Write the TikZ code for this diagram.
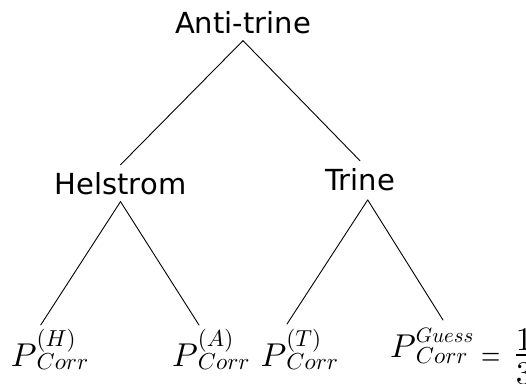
\documentclass[tikz,border=0pt]{standalone}
\usepackage{amsmath}
\usepackage{fontspec}
\newfontfamily\labelfont{DejaVu Sans}
% math labels: built at 10pt and enlarged
\newcommand{\bigmath}[1]{\scalebox{3.3}{\normalsize$#1$}}
\newcommand{\idx}[2][0.7]{\scalebox{#1}{$#2$}}
\newlength\supwd
\newlength\subwd
% P with an index above and "Corr" below: [index scale]{index}{raise}{drop}
\newcommand{\pcorr}[4][0.7]{%
  \settowidth\supwd{\idx[#1]{#2}}\settowidth\subwd{\idx{Corr}}%
  P\rlap{\raisebox{#3}{\idx[#1]{#2}}}\rlap{\raisebox{-#4}{\idx{Corr}}}%
  \hskip\ifdim\supwd>\subwd\supwd\else\subwd\fi}
% one third, set as a tight stacked fraction
\newcommand{\onethird}{%
  \rlap{\hbox to 5pt{\hss\raisebox{2.1pt}{$1$}\hss}}%
  \rlap{\rule[0.4pt]{5pt}{0.4pt}}%
  \hbox to 5pt{\hss\raisebox{-8.45pt}{$3$}\hss}}
\tikzset{
  word/.style={font=\labelfont\fontsize{29}{35}\selectfont, inner xsep=0pt, inner ysep=7pt, anchor=base},
  prob/.style={inner sep=0pt, anchor=base west},
  branch/.style={line width=0.9pt, line cap=round}
}
\begin{document}
\begin{tikzpicture}[x=1pt,y=-1pt]
\useasboundingbox (0,0) rectangle (526,383);
% tree levels
\node[word] (anti) at (243,33) {Anti-trine};
\node[word] (hel) at (120.5,194) {Helstrom};
\node[word] (tri) at (360,190) {Trine};
\node[prob] (ph) at (10.7,366.5) {\bigmath{\pcorr{(H)}{6.2pt}{1.05pt}}};
\node[prob] (pa) at (172,366.5) {\bigmath{\pcorr{(A)}{6.2pt}{1.05pt}}};
\node[prob] (pt) at (260.5,366.5) {\bigmath{\pcorr{(T)}{6.2pt}{1.05pt}}};
\node[prob] (pg) at (390,357) {\bigmath{\pcorr[0.63]{Guess}{4.4pt}{1.9pt}%
  \kern2.34pt\raisebox{-2.65pt}{\scalebox{0.75}[1]{$=$}}\kern4.68pt\onethird}};
% branches
\draw[branch] (anti.south) -- (hel.north);
\draw[branch] (anti.south) -- (tri.north);
\draw[branch] (hel.south) -- ([shift={(30,-41.5)}]ph.base west);
\draw[branch] (hel.south) -- ([shift={(27,-41.5)}]pa.base west);
\draw[branch] ([shift={(7.7,2.3)}]tri.south) -- ([shift={(26.5,-42.5)}]pt.base west);
\draw[branch] ([shift={(7.7,2.3)}]tri.south) -- ([shift={(53,-37)}]pg.base west);
\end{tikzpicture}
\end{document}
